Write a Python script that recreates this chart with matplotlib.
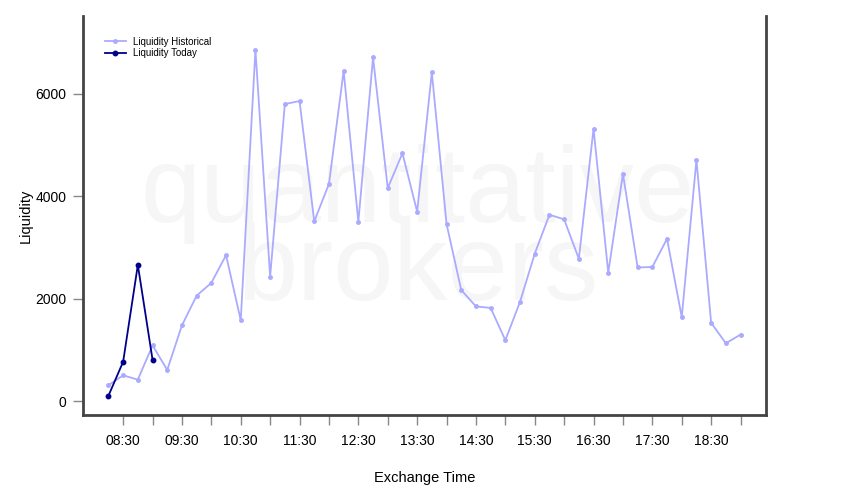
"""
Liquidity by exchange time: historical profile vs today
Output: out.png
"""

import matplotlib.pyplot as plt

# ── Data ───────────────────────────────────────────────────────────────────────
HIST_TIMES = [
    "08:15", "08:30", "08:45", "09:00", "09:15", "09:30", "09:45", "10:00",
    "10:15", "10:30", "10:45", "11:00", "11:15", "11:30", "11:45", "12:00",
    "12:15", "12:30", "12:45", "13:00", "13:15", "13:30", "13:45", "14:00",
    "14:15", "14:30", "14:45", "15:00", "15:15", "15:30", "15:45", "16:00",
    "16:15", "16:30", "16:45", "17:00", "17:15", "17:30", "17:45", "18:00",
    "18:15", "18:30", "18:45", "19:00",
]
HIST_LIQ = [
    310, 505, 420, 1090, 610, 1480, 2060, 2310,
    2850, 1580, 6860, 2430, 5800, 5860, 3510, 4240,
    6450, 3500, 6710, 4160, 4840, 3700, 6420, 3460,
    2170, 1850, 1820, 1190, 1940, 2880, 3640, 3550,
    2780, 5320, 2510, 4440, 2610, 2620, 3170, 1640,
    4710, 1530, 1130, 1300,
]

TODAY_TIMES = ["08:15", "08:30", "08:45", "09:00"]
TODAY_LIQ   = [105, 770, 2660, 810]

TICK_TIMES = [f"{h:02d}:{m:02d}" for h in range(8, 20) for m in (0, 30)][1:-1]
Y_TICKS    = [0, 2000, 4000, 6000]

HIST_COLOR  = "#AAAAFF"
TODAY_COLOR = "#00008B"


def to_hours(t):
    h, m = t.split(":")
    return int(h) + int(m) / 60


plt.rcParams["font.family"] = ["Liberation Sans", "DejaVu Sans"]

# ── Plot ───────────────────────────────────────────────────────────────────────
fig = plt.figure(figsize=(8.5, 5), dpi=100)
ax = fig.add_axes([0.0976, 0.17, 0.8036, 0.798])

# watermark (one text object, tight line spacing)
ax.text(0.49, 0.288, "quantitative\nbrokers", transform=ax.transAxes,
        ha="center", va="baseline", multialignment="center", fontsize=78,
        linespacing=0.72, color="#F6F6F6", zorder=0)

ax.plot([to_hours(t) for t in HIST_TIMES], HIST_LIQ, color=HIST_COLOR,
        linewidth=1.3, marker="o", markersize=2.5, label="Liquidity Historical",
        zorder=2)
ax.plot([to_hours(t) for t in TODAY_TIMES], TODAY_LIQ, color=TODAY_COLOR,
        linewidth=1.3, marker="o", markersize=3.2, label="Liquidity Today",
        zorder=3)

ax.set_xlim(to_hours("07:49"), to_hours("19:26"))
ax.set_ylim(-270, 7520)

ax.set_xticks([to_hours(t) for t in TICK_TIMES])
ax.set_xticklabels([t if t.endswith("30") else "" for t in TICK_TIMES])
ax.set_yticks(Y_TICKS)
ax.tick_params(axis="both", direction="out", length=7, width=1,
               color="#888888", labelsize=10, pad=7)
ax.tick_params(axis="y", pad=5)

for side in ("left", "bottom", "right"):
    ax.spines[side].set_color("#444444")
    ax.spines[side].set_linewidth(2)
ax.spines["top"].set_visible(False)

ax.set_xlabel("Exchange Time", fontsize=10.5, labelpad=16)
ax.set_ylabel("Liquidity", fontsize=10.5, labelpad=2)

ax.legend(loc="upper left", bbox_to_anchor=(0.026, 0.958), frameon=False,
          fontsize=7, handlelength=2.2, handletextpad=0.7,
          labelspacing=0.15, borderaxespad=0)

fig.savefig("out.png", dpi=100)
